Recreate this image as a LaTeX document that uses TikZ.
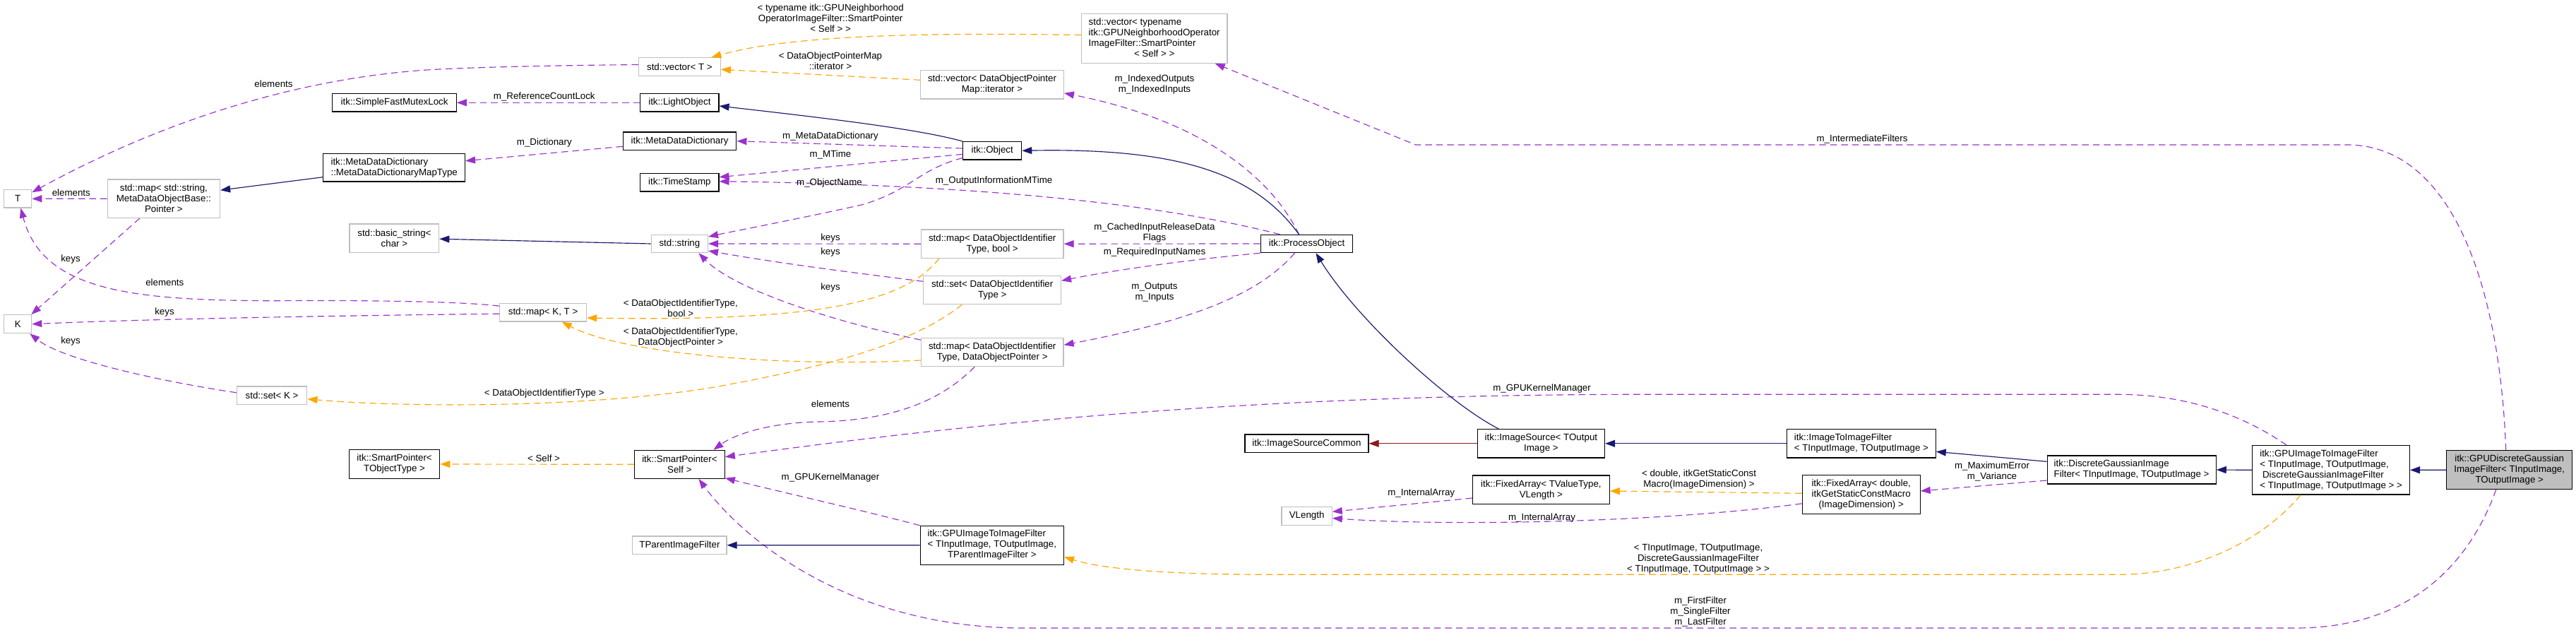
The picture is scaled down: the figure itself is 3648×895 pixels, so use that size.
\documentclass[tikz,border=0pt]{standalone}
\usepackage{fontspec}
\setmainfont{Liberation Sans}
\usetikzlibrary{arrows.meta,calc}
\definecolor{usecol}{HTML}{9A32CD}
\definecolor{tplcol}{HTML}{FFA500}
\definecolor{inhcol}{HTML}{191970}
\definecolor{redcol}{HTML}{8B1A1A}
\definecolor{grayborder}{HTML}{BFBFBF}
\definecolor{mainfill}{HTML}{BFBFBF}
\newcommand{\ctrline}[1]{\multicolumn{1}{@{}c@{}}{#1}}
\begin{document}
\begin{tikzpicture}[x=1pt,y=-1pt,
  font=\fontsize{13.33pt}{15pt}\selectfont,
  box/.style={draw=black, line width=1.15pt, inner sep=0pt, fill=white, align=center},
  gbox/.style={box, draw=grayborder},
  lbl/.style={inner sep=0pt, align=center},
  usededge/.style={draw=usecol, line width=1.15pt, dash pattern=on 9.5pt off 6pt, -{Triangle[length=14pt,width=10pt]}},
  tpledge/.style={draw=tplcol, line width=1.15pt, dash pattern=on 9.5pt off 6pt, -{Triangle[length=14pt,width=10pt]}},
  inhedge/.style={draw=inhcol, line width=1.15pt, -{Triangle[length=14pt,width=10pt]}},
  rededge/.style={draw=redcol, line width=1.15pt, -{Triangle[length=14pt,width=10pt]}}
]
\fill[white] (0,0) rectangle (3648,895);
\useasboundingbox (0,0) rectangle (3648,895);

% ---------- nodes ----------
\node[gbox, minimum width=38.8pt, minimum height=25.3pt] (T) at (25.3,281.3) {T};
\node[gbox, minimum width=159.4pt, minimum height=54.3pt] (mapStr) at (231.9,281.2) {std::map< std::string,\\ MetaDataObjectBase::\\ Pointer >};
\node[gbox, minimum width=38.8pt, minimum height=26pt] (K) at (25.3,458.7) {K};
\node[gbox, minimum width=99.6pt, minimum height=25.7pt] (setK) at (385.1,559.8) {std::set< K >};
\node[box, align=left, minimum width=200.6pt, minimum height=39.7pt] (mapType) at (558.2,237.2) {itk::MetaDataDictionary\\ ::MetaDataDictionaryMapType};
\node[box, minimum width=175.4pt, minimum height=25.3pt] (sfml) at (558.6,145.3) {itk::SimpleFastMutexLock};
\node[gbox, minimum width=126.7pt, minimum height=40.3pt] (bstr) at (558.4,337.2) {std::basic\_string<\\ char >};
\node[box, minimum width=128.6pt, minimum height=40.7pt] (spT) at (558.6,657) {itk::SmartPointer<\\ TObjectType >};
\node[gbox, minimum width=115.8pt, minimum height=25.7pt] (vecT) at (962.4,94.5) {std::vector< T >};
\node[box, minimum width=111.1pt, minimum height=25.3pt] (light) at (962.4,145.3) {itk::LightObject};
\node[box, minimum width=160.5pt, minimum height=25.3pt] (mdd) at (962.6,199.7) {itk::MetaDataDictionary};
\node[box, minimum width=111.1pt, minimum height=25.3pt] (ts) at (962.4,258.3) {itk::TimeStamp};
\node[gbox, minimum width=80.2pt, minimum height=25.3pt] (str) at (962.4,345) {std::string};
\node[gbox, minimum width=123pt, minimum height=25.7pt] (mapKT) at (769.1,442.2) {std::map< K, T >};
\node[box, minimum width=127.8pt, minimum height=40pt] (spSelf) at (962.4,657.3) {itk::SmartPointer<\\ Self >};
\node[gbox, minimum width=133.2pt, minimum height=25.3pt] (tparent) at (962.4,771.7) {TParentImageFilter};
\node[gbox, minimum width=206.7pt, minimum height=69.7pt] (vecTypename) at (1634.7,54.5) {\begin{tabular}{@{}l@{}}std::vector< typename\\ \ctrline{itk::GPUNeighborhoodOperator}\\ ImageFilter::SmartPointer\\ \ctrline{< Self > >}\end{tabular}};
\node[gbox, minimum width=202.8pt, minimum height=40.3pt] (vecDOP) at (1405,119.8) {std::vector< DataObjectPointer\\ Map::iterator >};
\node[box, minimum width=83pt, minimum height=25.3pt] (obj) at (1405.2,213.3) {itk::Object};
\node[gbox, minimum width=201.6pt, minimum height=40.3pt] (mapBool) at (1405.2,345.2) {std::map< DataObjectIdentifier\\ Type, bool >};
\node[gbox, minimum width=194.6pt, minimum height=40pt] (setDOI) at (1405.2,410.7) {std::set< DataObjectIdentifier\\ Type >};
\node[gbox, minimum width=201.6pt, minimum height=40pt] (mapDOP) at (1405.2,498.7) {std::map< DataObjectIdentifier\\ Type, DataObjectPointer >};
\node[box, minimum width=203.2pt, minimum height=55pt] (gpuParent) at (1404.8,771.8) {\begin{tabular}{@{}l@{}}itk::GPUImageToImageFilter\\ < TInputImage, TOutputImage,\\ \ctrline{TParentImageFilter >}\end{tabular}};
\node[box, minimum width=130.7pt, minimum height=25.3pt] (po) at (1850.5,345) {itk::ProcessObject};
\node[box, minimum width=175pt, minimum height=25.7pt] (isc) at (1850.5,627.8) {itk::ImageSourceCommon};
\node[gbox, minimum width=71.2pt, minimum height=25.7pt] (vlen) at (1850.6,730.5) {VLength};
\node[box, minimum width=180.3pt, minimum height=40.3pt] (is) at (2182.4,627.8) {itk::ImageSource< TOutput\\ Image >};
\node[box, minimum width=193.7pt, minimum height=40.3pt] (faTV) at (2182.4,693.2) {itk::FixedArray< TValueType,\\ VLength >};
\node[box, align=left, minimum width=210.7pt, minimum height=40.3pt] (itif) at (2635.9,627.8) {itk::ImageToImageFilter\\ < TInputImage, TOutputImage >};
\node[box, minimum width=166.9pt, minimum height=55pt] (faD) at (2635.7,699.8) {itk::FixedArray< double,\\ itkGetStaticConstMacro\\ (ImageDimension) >};
\node[box, align=left, minimum width=239.1pt, minimum height=40pt] (dg) at (3018.6,665) {itk::DiscreteGaussianImage\\ Filter< TInputImage, TOutputImage >};
\node[box, align=left, minimum width=222.7pt, minimum height=69.3pt] (gpuDG) at (3301.1,665.3) {itk::GPUImageToImageFilter\\ < TInputImage, TOutputImage,\\ \ DiscreteGaussianImageFilter\\ < TInputImage, TOutputImage > >};
\node[box, fill=mainfill, minimum width=178.2pt, minimum height=55pt] (main) at (3553.7,665.2) {itk::GPUDiscreteGaussian\\ ImageFilter< TInputImage,\\ TOutputImage >};

% ---------- usage edges (purple) ----------
\draw[usededge] ($(vecT.west)+(0,-3)$) .. controls (750,93) and (650,96) .. (600,99.3) .. controls (450,110) and (260,155) .. ($(T.east)+(0,-9)$);
\node[lbl] (l1) at (387.5,119) {elements};
\draw[usededge] (mapStr.west) -- (T.east);
\node[lbl] (l2) at (100.8,272.7) {elements};
\draw[usededge] ($(mapKT.west)+(0,-9)$) .. controls (650,426) and (500,425) .. (395,425.7) .. controls (180,426) and (60,410) .. ($(T.south)+(4,0)$);
\node[lbl] (l3) at (233.3,400) {elements};
\draw[usededge] ($(mapStr.south)+(-34,0)$) -- ($(K.north east)+(-1,0)$);
\node[lbl] (l4) at (100,366.7) {keys};
\draw[usededge] ($(mapKT.west)+(0,2)$) .. controls (550,446) and (250,450) .. (K.east);
\node[lbl] (l5) at (233,442) {keys};
\draw[usededge] ($(setK.west)+(0,-4)$) .. controls (230,540) and (90,510) .. ($(K.south east)+(-3,0)$);
\node[lbl] (l6) at (100,483.3) {keys};
\draw[usededge] (light.west) -- (sfml.east);
\node[lbl] (l7) at (770.8,136.7) {m\_ReferenceCountLock};
\draw[usededge] ($(mdd.west)+(0,7.6)$) -- ($(mapType.east)+(0,-9.5)$);
\node[lbl] (l8) at (770.8,202.3) {m\_Dictionary};
\draw[usededge] ($(obj.west)+(0,-3.3)$) -- (mdd.east);
\node[lbl] (l9) at (1176,192.7) {m\_MetaDataDictionary};
\draw[usededge] ($(obj.west)+(0,5)$) -- ($(ts.east)+(0,-7.6)$);
\node[lbl] (l10) at (1176,219.3) {m\_MTime};
\draw[usededge] ($(po.north west)+(28,0)$) .. controls (1650,290) and (1400,262) .. ($(ts.east)+(0,-1.6)$);
\node[lbl] (l11) at (1407.6,255.7) {m\_OutputInformationMTime};
\draw[usededge] ($(obj.south west)+(0,-3)$) .. controls (1300,240) and (1290,270) .. (1220,290) .. controls (1130,310) and (1050,325) .. ($(str.east)+(0,-10)$);
\node[lbl] (l12) at (1174.5,259.3) {m\_ObjectName};
\draw[usededge] (mapBool.west) -- (str.east);
\node[lbl] (l13) at (1176,336.7) {keys};
\draw[usededge] ($(setDOI.west)+(0,-12.4)$) .. controls (1200,385) and (1100,372) .. ($(str.east)+(0,10)$);
\node[lbl] (l14) at (1176,356.7) {keys};
\draw[usededge] ($(mapDOP.north west)+(0,3)$) .. controls (1180,455) and (1040,410) .. ($(str.south)+(27,0)$);
\node[lbl] (l15) at (1176,406.7) {keys};
\draw[usededge] ($(po.north)+(-11,0)$) .. controls (1800,250) and (1700,170) .. ($(vecDOP.east)+(0,12)$);
\node[lbl] (l16) at (1635,120) {m\_IndexedOutputs\\ m\_IndexedInputs};
\draw[usededge] (po.west) -- (mapBool.east);
\node[lbl] (l17) at (1635,329.7) {m\_CachedInputReleaseData\\ Flags};
\draw[usededge] (po.south west) .. controls (1680,368) and (1580,382) .. ($(setDOI.east)+(0,-13.4)$);
\node[lbl] (l18) at (1635,356.7) {m\_RequiredInputNames};
\draw[usededge] ($(po.south)+(-17,0)$) .. controls (1780,420) and (1680,455) .. ($(mapDOP.east)+(0,-10.4)$);
\node[lbl] (l19) at (1635,413.7) {m\_Outputs\\ m\_Inputs};
\draw[usededge] ($(dg.west)+(0,15)$) -- ($(faD.east)+(0,-4.8)$);
\node[lbl] (l30) at (2821,667) {m\_MaximumError\\ m\_Variance};
\draw[usededge] ($(faTV.west)+(0,11.8)$) -- ($(vlen.east)+(0,-6.2)$);
\node[lbl] (l32) at (2012.7,698.3) {m\_InternalArray};
\draw[usededge] ($(faD.west)+(0,13)$) .. controls (2350,740) and (2050,745) .. ($(vlen.east)+(0,3)$);
\node[lbl] (l33) at (2183.5,732.7) {m\_InternalArray};
\draw[usededge] ($(gpuDG.north)+(-63,0)$) .. controls (3180,590) and (3100,558.3) .. (3000,558.3) -- (2300,558.3) .. controls (1700,560) and (1300,610) .. ($(spSelf.east)+(0,-10.6)$);
\node[lbl] (l35) at (2183.5,550) {m\_GPUKernelManager};
\draw[usededge] (gpuParent.north west) .. controls (1220,722) and (1100,695) .. ($(spSelf.east)+(0,19.4)$);
\node[lbl] (l36) at (1176,675.7) {m\_GPUKernelManager};
\draw[usededge] ($(mapDOP.south)+(-25,0)$) .. controls (1330,570) and (1260,595) .. (1160,597) .. controls (1090,598) and (1040,615) .. ($(spSelf.north)+(48,0)$);
\node[lbl] (l37) at (1176,571.7) {elements};
\draw[usededge] ($(main.south)+(-19,0)$) .. controls (3500,790) and (3420,889) .. (3250,889) -- (1450,889) .. controls (1200,889) and (1050,760) .. ($(spSelf.south)+(27,0)$);
\node[lbl] (l38) at (2408,866.3) {m\_FirstFilter\\ m\_SingleFilter\\ m\_LastFilter};
\draw[usededge] ($(main.north)+(-5,0)$) .. controls (3540,400) and (3470,205) .. (3324,205) -- (2005,205) -- ($(vecTypename.south)+(86,0)$);
\node[lbl] (l45) at (2637,196.7) {m\_IntermediateFilters};

% ---------- template edges (orange) ----------
\draw[tpledge] ($(faD.west)+(0,-1.5)$) -- ($(faTV.east)+(0,1.8)$);
\node[lbl] (l31) at (2406,679) {< double, itkGetStaticConst\\ Macro(ImageDimension) >};
\draw[tpledge] ($(gpuDG.south)+(-43,0)$) .. controls (3200,770) and (3100,813.3) .. (3000,813.3) -- (1800,813.3) .. controls (1650,813.3) and (1560,805) .. ($(gpuParent.east)+(0,16.5)$);
\node[lbl] (l34) at (2405,791.7) {< TInputImage, TOutputImage,\\ DiscreteGaussianImageFilter\\ < TInputImage, TOutputImage > >};
\draw[tpledge] (spSelf.west) -- (spT.east);
\node[lbl] (l39) at (770,648.3) {< Self >};
\draw[tpledge] ($(vecTypename.west)+(0,-5)$) .. controls (1300,46) and (1120,50) .. ($(vecT.north)+(45,0)$);
\node[lbl] (l40) at (1176.2,26) {< typename itk::GPUNeighborhood\\ OperatorImageFilter::SmartPointer\\ < Self > >};
\draw[tpledge] ($(vecDOP.west)+(0,-6.5)$) -- ($(vecT.east)+(0,3.8)$);
\node[lbl] (l41) at (1176,85.8) {< DataObjectPointerMap\\ ::iterator >};
\draw[tpledge] ($(mapBool.south west)+(26,0)$) .. controls (1280,430) and (1150,455) .. ($(mapKT.east)+(0,7.8)$);
\node[lbl] (l42) at (963.8,436) {< DataObjectIdentifierType,\\ bool >};
\draw[tpledge] ($(mapDOP.west)+(0,11.3)$) .. controls (1100,520) and (880,500) .. ($(mapKT.south)+(26.6,0)$);
\node[lbl] (l43) at (963.8,477.5) {< DataObjectIdentifierType,\\ DataObjectPointer >};
\draw[tpledge] ($(setDOI.south west)+(55,0)$) .. controls (1300,480) and (1200,515) .. (1000,550) .. controls (800,580) and (550,575) .. ($(setK.east)+(0,5)$);
\node[lbl] (l44) at (770.8,556.7) {< DataObjectIdentifierType >};

% ---------- inheritance edges ----------
\draw[inhedge] ($(po.north)+(-11,0)$) .. controls (1780,250) and (1680,209) .. (obj.east);
\draw[inhedge] (obj.north west) .. controls (1300,182) and (1150,165) .. ($(light.east)+(0,4.7)$);
\draw[inhedge] (str.west) -- ($(bstr.east)+(0,1)$);
\draw[inhedge] ($(mapType.west)+(0,13.5)$) -- ($(mapStr.east)+(0,-12)$);
\draw[inhedge] ($(is.north)+(-60,0)$) .. controls (2050,570) and (1920,450) .. ($(po.south)+(13,0)$);
\draw[rededge] (is.west) -- (isc.east);
\draw[inhedge] (itif.west) -- (is.east);
\draw[inhedge] ($(dg.west)+(0,-11.7)$) -- ($(itif.east)+(0,11.5)$);
\draw[inhedge] (gpuDG.west) -- (dg.east);
\draw[inhedge] (main.west) -- (gpuDG.east);
\draw[inhedge] (gpuParent.west) -- (tparent.east);
\end{tikzpicture}
\end{document}
